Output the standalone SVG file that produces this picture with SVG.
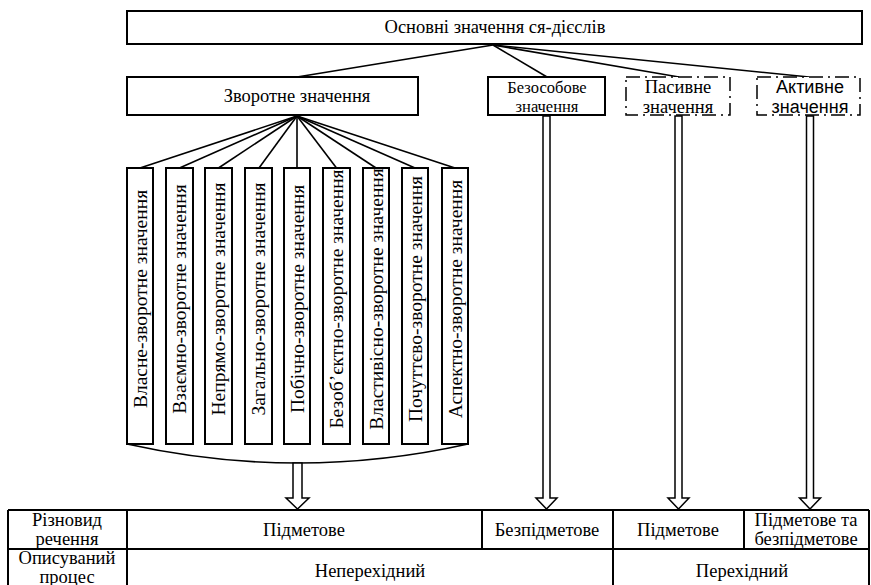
<svg xmlns="http://www.w3.org/2000/svg" width="871" height="585" viewBox="0 0 871 585">
<style>
.box{fill:#fff;stroke:#000;stroke-width:2}
.dbox{fill:#fff;stroke:#000;stroke-width:1.5;stroke-dasharray:14 5 2 5}
.ln{fill:none;stroke:#000;stroke-width:1.6}
.arr{fill:#fff;stroke:#000;stroke-width:1.5;stroke-linejoin:miter}
.t{font-family:'Liberation Serif','DejaVu Serif',serif;font-size:18.5px;fill:#000;text-anchor:middle}
.ts{font-family:'Liberation Sans','DejaVu Sans',sans-serif;font-size:18px;fill:#000;text-anchor:middle}
.tv{font-family:'Liberation Serif','DejaVu Serif',serif;font-size:19.5px;fill:#000;text-anchor:middle;dominant-baseline:central}
.tb{fill:none;stroke:#000;stroke-width:2}
</style>
<rect width="871" height="585" fill="#fff"/>
<g id="connectors">
<line class="ln" x1="493" y1="45" x2="297" y2="77"/>
<line class="ln" x1="493" y1="45" x2="547" y2="77"/>
<line class="ln" x1="493" y1="45" x2="679" y2="77"/>
<line class="ln" x1="493" y1="45" x2="809" y2="77"/>
<line class="ln" x1="297" y1="116" x2="140" y2="168"/>
<line class="ln" x1="297" y1="116" x2="179.5" y2="168"/>
<line class="ln" x1="297" y1="116" x2="218.5" y2="168"/>
<line class="ln" x1="297" y1="116" x2="259" y2="168"/>
<line class="ln" x1="297" y1="116" x2="297" y2="168"/>
<line class="ln" x1="297" y1="116" x2="336.5" y2="168"/>
<line class="ln" x1="297" y1="116" x2="376" y2="168"/>
<line class="ln" x1="297" y1="116" x2="415" y2="168"/>
<line class="ln" x1="297" y1="116" x2="455" y2="168"/>
<path class="ln" d="M127,444 Q298,482 468,444"/>
<polygon class="arr" points="293,463 293,498 286,498 297.5,509 309,498 302,498 302,463"/>
<polygon class="arr" points="543,116 543,498 536,498 546.5,509 557,498 550,498 550,116"/>
<polygon class="arr" points="675,116 675,498 668,498 678.5,509 689,498 682,498 682,116"/>
<polygon class="arr" points="806.5,116 806.5,498 799.5,498 810,509 820.5,498 813.5,498 813.5,116"/>
</g>
<g id="root">
<rect class="box" x="127" y="11" width="735" height="33"/>
<text class="t" x="495" y="33">Основні значення ся-дієслів</text>
</g>
<g id="reflexive">
<rect class="box" x="127" y="77" width="291" height="38"/>
<text class="t" x="297" y="102">Зворотне значення</text>
</g>
<g id="impersonal">
<rect class="box" x="488" y="77" width="117" height="38"/>
<text class="t" x="547" y="93" style="font-size:16.5px">Безособове</text>
<text class="t" x="547" y="112" style="font-size:16.5px">значення</text>
</g>
<g id="passive">
<rect class="dbox" x="626" y="77" width="104" height="38"/>
<text class="t" x="678" y="93">Пасивне</text>
<text class="t" x="678" y="113">значення</text>
</g>
<g id="active">
<rect class="dbox" x="757" y="77" width="103" height="38"/>
<text class="ts" x="810" y="93">Активне</text>
<text class="ts" x="810" y="113">значення</text>
</g>
<g id="v1"><rect class="box" x="127" y="168" width="26" height="276"/><text class="tv" transform="translate(140,299) rotate(-90)">Власне-зворотне значення</text></g>
<g id="v2"><rect class="box" x="166" y="168" width="27" height="276"/><text class="tv" transform="translate(179.5,299) rotate(-90)">Взаємно-зворотне значення</text></g>
<g id="v3"><rect class="box" x="205" y="168" width="27" height="276"/><text class="tv" transform="translate(218.5,299) rotate(-90)">Непрямо-зворотне значення</text></g>
<g id="v4"><rect class="box" x="245" y="168" width="27" height="276"/><text class="tv" transform="translate(258.5,299) rotate(-90)">Загально-зворотне значення</text></g>
<g id="v5"><rect class="box" x="284" y="168" width="26" height="276"/><text class="tv" transform="translate(297,299) rotate(-90)">Побічно-зворотне значення</text></g>
<g id="v6"><rect class="box" x="323" y="168" width="27" height="276"/><text class="tv" transform="translate(336.5,299) rotate(-90)">Безоб’єктно-зворотне значення</text></g>
<g id="v7"><rect class="box" x="363" y="168" width="26" height="276"/><text class="tv" transform="translate(376,299) rotate(-90)">Властивісно-зворотне значення</text></g>
<g id="v8"><rect class="box" x="402" y="168" width="26" height="276"/><text class="tv" transform="translate(415,299) rotate(-90)">Почуттєво-зворотне значення</text></g>
<g id="v9"><rect class="box" x="442" y="168" width="26" height="276"/><text class="tv" transform="translate(455,299) rotate(-90)">Аспектно-зворотне значення</text></g>
<g id="table">
<path class="tb" d="M8,510 H869 M8,549 H869 M8,510 V585 M127,510 V585 M482,510 V549 M613,510 V585 M744,510 V549 M869,510 V585"/>
<text class="t" x="67" y="526">Різновид</text>
<text class="t" x="67" y="545">речення</text>
<text class="t" x="67" y="564">Описуваний</text>
<text class="t" x="67" y="583">процес</text>
<text class="t" x="304" y="536">Підметове</text>
<text class="t" x="547" y="536">Безпідметове</text>
<text class="t" x="678" y="536">Підметове</text>
<text class="t" x="806" y="526">Підметове та</text>
<text class="t" x="806" y="545">безпідметове</text>
<text class="t" x="370" y="577">Неперехідний</text>
<text class="t" x="742" y="577">Перехідний</text>
</g>
</svg>
